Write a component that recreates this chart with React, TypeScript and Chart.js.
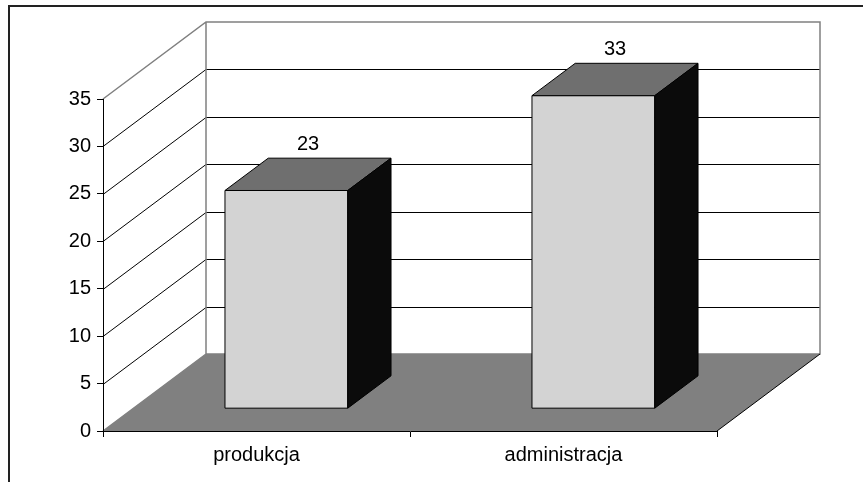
import React, { useEffect, useRef } from "react";
import { Chart, registerables } from "chart.js";
Chart.register(...registerables);

const categories = ["produkcja", "administracja"];
const values = [23, 33];
const yTicks = [0, 5, 10, 15, 20, 25, 30, 35];

const FONT = '"Liberation Sans", Arial, sans-serif';
const DEPTH = { dx: 103, dy: -77 };
const BAR_Z = [0.29, 0.71];

const threeD = {
  id: "threeD",
  beforeDraw(chart: any) {
    const { ctx, chartArea: a, scales } = chart;
    const ys = scales.y;
    const { dx, dy } = DEPTH;
    const yMax = yTicks[yTicks.length - 1];
    ctx.save();
    ctx.fillStyle = "#fff";
    ctx.fillRect(0, 0, chart.width, chart.height);
    // outer frame
    ctx.strokeStyle = "#222";
    ctx.lineWidth = 2;
    ctx.strokeRect(9, 6, 900, 600);
    const y0 = ys.getPixelForValue(0);
    const yTop = ys.getPixelForValue(yMax);
    // floor
    ctx.fillStyle = "#808080";
    ctx.beginPath();
    ctx.moveTo(a.left, y0);
    ctx.lineTo(a.right, y0);
    ctx.lineTo(a.right + dx, y0 + dy);
    ctx.lineTo(a.left + dx, y0 + dy);
    ctx.closePath();
    ctx.fill();
    // gridlines
    ctx.lineWidth = 1;
    ctx.strokeStyle = "#000";
    ctx.beginPath();
    for (const v of yTicks) {
      if (v === 0 || v === yMax) continue;
      const py = Math.round(ys.getPixelForValue(v)) + 0.5;
      ctx.moveTo(a.left, py);
      ctx.lineTo(a.left + dx, py + dy);
      ctx.lineTo(a.right + dx, py + dy);
    }
    ctx.stroke();
    // wall edges
    ctx.strokeStyle = "#808080";
    ctx.lineWidth = 1.5;
    ctx.beginPath();
    ctx.moveTo(a.left, yTop);
    ctx.lineTo(a.left + dx, yTop + dy);
    ctx.lineTo(a.right + dx, yTop + dy);
    ctx.lineTo(a.right + dx, y0 + dy);
    ctx.lineTo(a.left + dx, y0 + dy);
    ctx.moveTo(a.left + dx, yTop + dy);
    ctx.lineTo(a.left + dx, y0 + dy);
    ctx.moveTo(a.left, y0);
    ctx.lineTo(a.left + dx, y0 + dy);
    ctx.stroke();
    ctx.strokeStyle = "#000";
    ctx.lineWidth = 1;
    ctx.beginPath();
    ctx.moveTo(a.right, y0);
    ctx.lineTo(a.right + dx, y0 + dy);
    ctx.stroke();
    ctx.restore();
  },
  afterDatasetsDraw(chart: any) {
    const { ctx } = chart;
    const { dx, dy } = DEPTH;
    const [z1, z2] = BAR_Z;
    const meta = chart.getDatasetMeta(0);
    ctx.save();
    ctx.lineWidth = 1;
    ctx.strokeStyle = "#000";
    ctx.lineJoin = "miter";
    meta.data.forEach((el: any, i: number) => {
      const p = el.getProps(["x", "y", "base", "width"], true);
      const xl = p.x - p.width / 2;
      const xr = p.x + p.width / 2;
      const yt = p.y;
      const yb = p.base;
      const poly = (pts: number[][], fill: string) => {
        ctx.beginPath();
        ctx.moveTo(pts[0][0], pts[0][1]);
        for (let k = 1; k < pts.length; k++) ctx.lineTo(pts[k][0], pts[k][1]);
        ctx.closePath();
        ctx.fillStyle = fill;
        ctx.fill();
        ctx.stroke();
      };
      // front
      poly(
        [
          [xl + z1 * dx, yt + z1 * dy],
          [xr + z1 * dx, yt + z1 * dy],
          [xr + z1 * dx, yb + z1 * dy],
          [xl + z1 * dx, yb + z1 * dy],
        ],
        "#d3d3d3"
      );
      // top
      poly(
        [
          [xl + z1 * dx, yt + z1 * dy],
          [xl + z2 * dx, yt + z2 * dy],
          [xr + z2 * dx, yt + z2 * dy],
          [xr + z1 * dx, yt + z1 * dy],
        ],
        "#6f6f6f"
      );
      // side
      poly(
        [
          [xr + z1 * dx, yt + z1 * dy],
          [xr + z2 * dx, yt + z2 * dy],
          [xr + z2 * dx, yb + z2 * dy],
          [xr + z1 * dx, yb + z1 * dy],
        ],
        "#0b0b0b"
      );
      // label
      ctx.fillStyle = "#000";
      ctx.font = `20px ${FONT}`;
      ctx.textAlign = "center";
      ctx.textBaseline = "middle";
      ctx.fillText(String(values[i]), p.x + 0.5 * dx, yt + 0.5 * dy - 30);
    });
    ctx.restore();
  },
};

export default function App() {
  const ref = useRef<HTMLCanvasElement>(null);
  useEffect(() => {
    if (!ref.current) return;
    const chart = new Chart(ref.current, {
      type: "bar",
      data: {
        labels: categories,
        datasets: [
          {
            data: values,
            backgroundColor: "rgba(0,0,0,0)",
            borderWidth: 0,
            categoryPercentage: 0.8,
            barPercentage: 0.5,
          },
        ],
      },
      options: {
        responsive: false,
        animation: false,
        events: [],
        layout: { padding: { top: 99, right: 146, left: 0, bottom: 0 } },
        plugins: { legend: { display: false }, tooltip: { enabled: false } },
        scales: {
          x: {
            type: "category",
            offset: true,
            grid: { offset: true, drawOnChartArea: false, tickLength: 6, color: "#000" },
            border: { color: "#000", width: 1 },
            ticks: { color: "#000", font: { family: FONT, size: 20 }, padding: 6, maxRotation: 0 },
            afterFit: (s: any) => {
              s.height = 51;
            },
          },
          y: {
            min: yTicks[0],
            max: yTicks[yTicks.length - 1],
            ticks: { stepSize: 5, color: "#000", font: { family: FONT, size: 20 }, padding: 6 },
            grid: { drawOnChartArea: false, tickLength: 6, color: "#000" },
            border: { color: "#000", width: 1 },
            afterFit: (s: any) => {
              s.width = 103;
            },
          },
        },
      },
      plugins: [threeD],
    });
    return () => chart.destroy();
  }, []);
  return (
    <div style={{ position: "fixed", left: 0, top: 0, width: 863, height: 482 }}>
      <canvas ref={ref} width={863} height={482} />
    </div>
  );
}
